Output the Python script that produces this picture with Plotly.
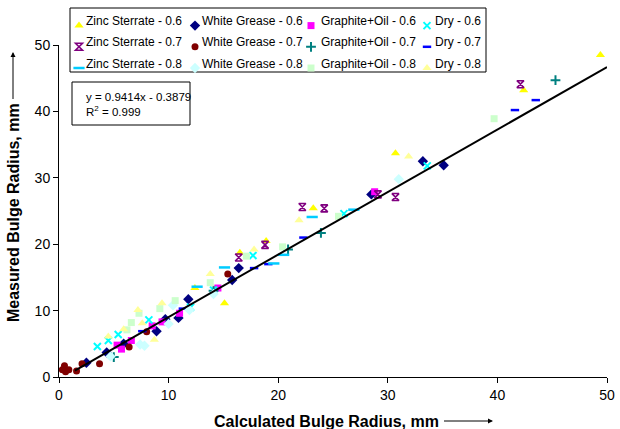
import plotly.graph_objects as go

# ---- data: calculated vs measured bulge radius (mm) ----
zinc_06_x = [12.4, 15.1, 16.5, 18.9, 23.2, 30.7, 42.4, 49.4]
zinc_06_y = [13.4, 11.1, 18.7, 20.5, 25.4, 33.7, 43.2, 48.5]

wg_06_x = [2.5, 4.35, 5.9, 8.9, 9.7, 10.9, 11.8, 15.8, 16.4, 28.5, 33.2, 35.1]
wg_06_y = [2.15, 3.7, 5.0, 6.9, 8.7, 8.9, 11.7, 14.6, 16.4, 27.5, 32.5, 31.9]

go_06_x = [5.3, 5.7, 6.6, 8.5, 9.4, 11.0, 14.5, 28.8]
go_06_y = [4.8, 4.2, 5.5, 7.7, 8.3, 9.6, 13.4, 27.9]

dry_06_x = [3.5, 4.5, 5.4, 8.2, 12.0, 14.1, 17.7, 26.0, 33.6]
dry_06_y = [4.6, 5.5, 6.4, 8.6, 10.5, 13.1, 18.3, 24.6, 31.8]

zinc_07_x = [16.4, 18.8, 22.2, 24.2, 29.1, 30.7, 42.1]
zinc_07_y = [18.0, 19.9, 25.6, 25.4, 27.5, 27.1, 44.1]

wg_07_x = [0.3, 0.5, 0.6, 0.9, 1.6, 2.1, 3.7, 6.4, 8.0, 15.4]
wg_07_y = [1.1, 1.7, 0.8, 1.1, 0.9, 2.0, 2.0, 4.5, 6.8, 15.5]

go_07_x = [5.0, 14.1, 20.9, 23.9, 45.3]
go_07_y = [3.0, 13.0, 19.2, 21.7, 44.7]

dry_07_x = [7.6, 11.3, 17.8, 19.1, 22.3, 41.6, 43.5]
dry_07_y = [6.9, 10.3, 16.4, 17.0, 21.0, 40.2, 41.7]

zinc_08_x = [12.6, 15.1, 19.6, 20.5, 23.1, 26.9]
zinc_08_y = [13.6, 16.5, 17.1, 18.4, 24.1, 25.2]

wg_08_x = [4.7, 7.4, 7.8, 10.0, 10.4, 11.9, 14.1, 31.0]
wg_08_y = [3.1, 4.9, 4.7, 8.0, 10.8, 10.1, 12.5, 29.8]

go_08_x = [6.2, 6.6, 7.3, 9.2, 10.6, 13.8, 17.1, 20.4, 25.5, 39.7]
go_08_y = [7.1, 8.2, 9.6, 10.3, 11.5, 14.2, 18.2, 19.6, 24.2, 38.9]

dry_08_x = [4.5, 5.9, 7.2, 7.6, 8.7, 9.4, 13.8, 17.8, 21.9, 31.9]
dry_08_y = [6.1, 7.2, 10.1, 8.1, 5.6, 11.1, 15.5, 19.2, 23.6, 33.2]

# linear fit reported on the chart
slope = 0.9414
intercept = -0.3879
r_squared = 0.999
trend_x = [1.45, 50.0]

x_ticks = [0, 10, 20, 30, 40, 50]
y_ticks = [0, 10, 20, 30, 40, 50]

series_names = [
    "Zinc Sterrate - 0.6", "White Grease - 0.6", "Graphite+Oil - 0.6", "Dry - 0.6",
    "Zinc Sterrate - 0.7", "White Grease - 0.7", "Graphite+Oil - 0.7", "Dry - 0.7",
    "Zinc Sterrate - 0.8", "White Grease - 0.8", "Graphite+Oil - 0.8", "Dry - 0.8",
]
series_data = [
    (zinc_06_x, zinc_06_y), (wg_06_x, wg_06_y), (go_06_x, go_06_y), (dry_06_x, dry_06_y),
    (zinc_07_x, zinc_07_y), (wg_07_x, wg_07_y), (go_07_x, go_07_y), (dry_07_x, dry_07_y),
    (zinc_08_x, zinc_08_y), (wg_08_x, wg_08_y), (go_08_x, go_08_y), (dry_08_x, dry_08_y),
]
# (symbol, colour, size, stroke width)
series_style = [
    ("triangle-up", "#FFFF00", 8, 0),
    ("diamond", "#000080", 8, 0),
    ("square", "#FF00FF", 7, 0),
    ("x-thin-open", "#00FFFF", 7, 2),
    ("hourglass-open", "#800080", 7, 1.6),
    ("circle", "#800000", 7, 0),
    ("cross-thin-open", "#008080", 7, 2),
    ("line-ew-open", "#0000FF", 6, 2.5),
    ("line-ew-open", "#00CCFF", 8, 2.5),
    ("diamond", "#CCFFFF", 8, 0),
    ("square", "#CCFFCC", 7, 0),
    ("triangle-up", "#FFFF99", 8, 0),
]

W, H = 620, 429
ML, MR, MT, MB = 59, 13, 45, 52
PW, PH = W - ML - MR, H - MT - MB


def px(xp):
    return (xp - ML) / PW


def py(yp):
    return (H - MB - yp) / PH


FONT = "Arial, Liberation Sans, sans-serif"

fig = go.Figure()

for name, (xs, ys), (sym, col, size, lw) in zip(series_names, series_data, series_style):
    fig.add_trace(go.Scatter(
        x=xs, y=ys, mode="markers", name="",
        hovertemplate="%{x}, %{y}<extra>" + name + "</extra>",
        marker=dict(symbol=sym, color=col, size=size,
                    line=dict(width=lw, color=col)),
    ))

trend_y = [slope * v + intercept for v in trend_x]
fig.add_trace(go.Scatter(
    x=trend_x, y=trend_y, mode="lines", showlegend=False,
    line=dict(color="black", width=2), hoverinfo="skip",
))

# legend frame and equation frame
shapes = [
    dict(type="rect", xref="paper", yref="paper", x0=px(70), x1=px(486), y0=py(72), y1=py(8),
         line=dict(color="black", width=1), fillcolor="white", layer="above"),
    dict(type="rect", xref="paper", yref="paper", x0=px(72), x1=px(190), y0=py(125), y1=py(82),
         line=dict(color="black", width=1), fillcolor="white", layer="above"),
]

# legend labels beside the legend symbols
annotations = []
col_text_x = [85, 201, 320, 434]
row_y = [20.7, 42.3, 64.0]
for i, name in enumerate(series_names):
    r, c = divmod(i, 4)
    annotations.append(dict(
        xref="paper", yref="paper", x=px(col_text_x[c] - 1), y=py(row_y[r]),
        xanchor="left", yanchor="middle", showarrow=False, text=name,
        font=dict(family=FONT, size=12, color="black"),
    ))

annotations.append(dict(
    xref="paper", yref="paper", x=px(84), y=py(104), xanchor="left", yanchor="middle",
    showarrow=False, align="left",
    text=f"y = {slope}x - {abs(intercept)}<br>R<sup>2</sup> = {r_squared}",
    font=dict(family=FONT, size=11.5, color="black"),
))

# axis titles, each with an arrow running from the title towards larger values
title_font = dict(family=FONT, size=16, color="black", weight="bold")
x_title_cx, x_title_cy, x_head = 326, 421, 493
annotations.append(dict(
    xref="paper", yref="paper", x=px(x_head), y=py(x_title_cy),
    ax=x_title_cx - x_head, ay=0, xanchor="center", yanchor="middle",
    showarrow=True, arrowhead=2, arrowsize=1, arrowwidth=1, arrowcolor="black",
    standoff=0, startstandoff=4,
    text="Calculated Bulge Radius, mm", font=title_font,
))
y_title_cx, y_title_cy, y_head = 13, 213, 52
annotations.append(dict(
    xref="paper", yref="paper", x=px(y_title_cx), y=py(y_head),
    ax=0, ay=y_title_cy - y_head, xanchor="center", yanchor="middle",
    showarrow=True, arrowhead=2, arrowsize=1, arrowwidth=1, arrowcolor="black",
    standoff=0, startstandoff=3, textangle=-90,
    text="Measured Bulge Radius, mm", font=title_font,
))

axis_common = dict(
    range=[0, 50], showline=True, linecolor="black", linewidth=1,
    ticks="outside", ticklen=5, tickcolor="black", tickwidth=1,
    showgrid=False, zeroline=False, mirror=False, automargin=False,
    tickfont=dict(family=FONT, size=14, color="black"),
)

fig.update_layout(
    width=W, height=H,
    margin=dict(l=ML, r=MR, t=MT, b=MB, autoexpand=False),
    paper_bgcolor="white", plot_bgcolor="white",
    xaxis=dict(tickvals=x_ticks, **axis_common),
    yaxis=dict(tickvals=y_ticks, **axis_common),
    showlegend=True,
    legend=dict(
        orientation="h", x=0, xanchor="left", y=py(10), yanchor="top",
        entrywidth=71, entrywidthmode="pixels",
        bgcolor="rgba(0,0,0,0)", borderwidth=0,
        font=dict(family=FONT, size=14, color="black"),
        itemclick=False, itemdoubleclick=False,
    ),
    shapes=shapes,
    annotations=annotations,
)

fig.write_html("out.html")
